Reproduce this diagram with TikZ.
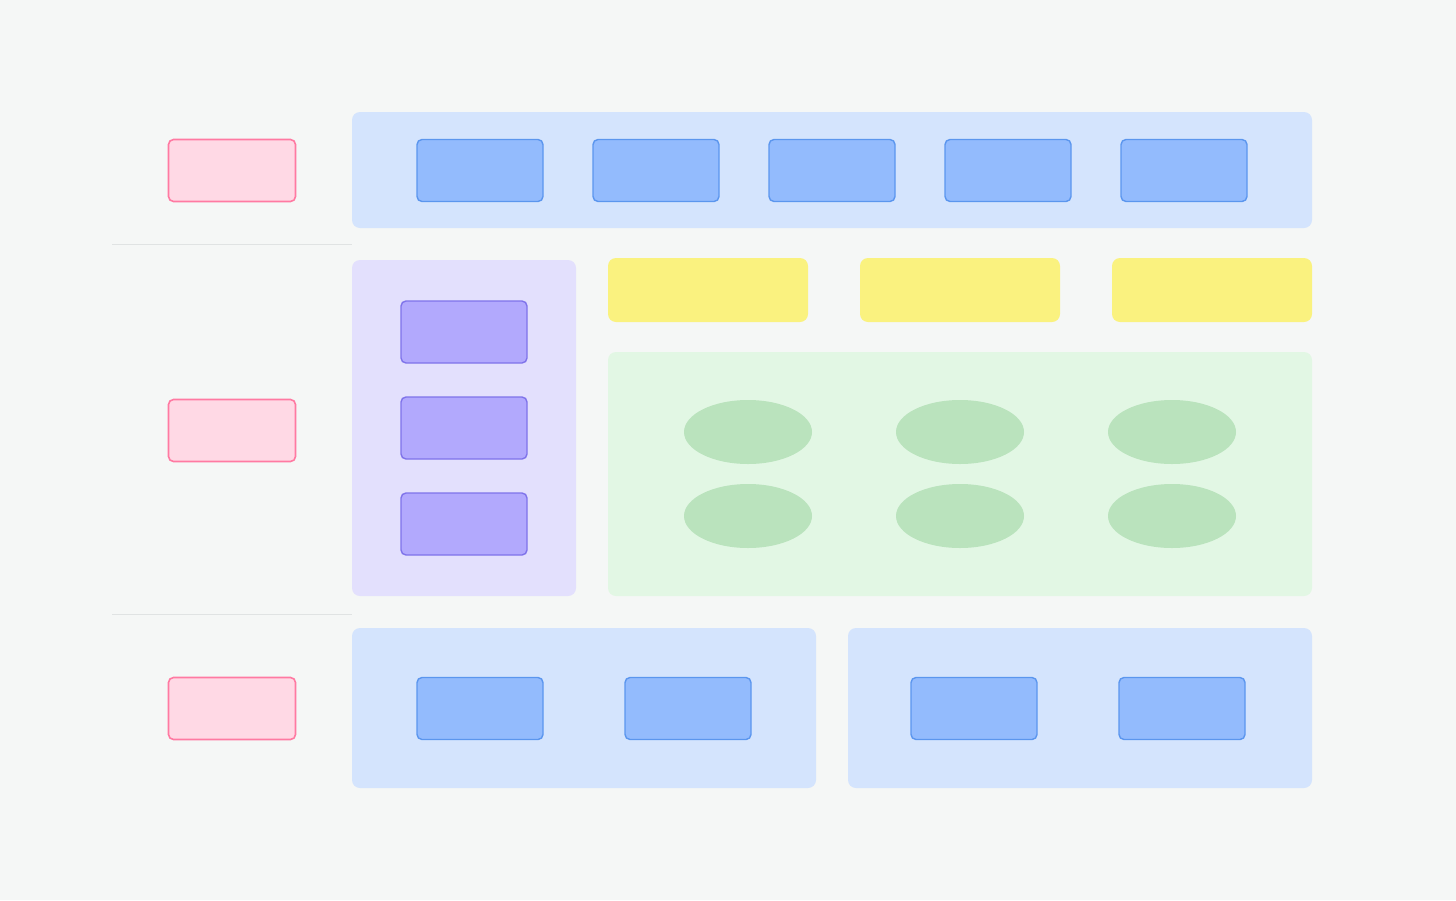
\documentclass[tikz,border=0pt]{standalone}
\begin{document}
\begin{tikzpicture}[x=1pt,y=-1pt,
  bgc/.style={fill=bgcol,draw=none},
  cont/.style={draw=none,rounded corners=8pt},
  pinkbox/.style={draw=pinkline,fill=pinkfill,line width=1.6pt,rounded corners=5pt},
  bluebox/.style={draw=blueline,fill=bluefill,line width=1.4pt,rounded corners=5pt},
  purplebox/.style={draw=purpleline,fill=purplefill,line width=1.4pt,rounded corners=5pt},
  yellowbox/.style={fill=yellowfill,draw=none,rounded corners=8pt},
  greenell/.style={fill=greenell,draw=none},
  sepline/.style={draw=sepcol,line width=1.2pt}]
\definecolor{bgcol}{HTML}{F5F7F6}
\definecolor{pinkfill}{HTML}{FFD9E5}
\definecolor{pinkline}{HTML}{FF7AA2}
\definecolor{bluecont}{HTML}{D4E4FD}
\definecolor{bluefill}{HTML}{93BBFD}
\definecolor{blueline}{HTML}{5B96EE}
\definecolor{purplecont}{HTML}{E3E0FD}
\definecolor{purplefill}{HTML}{B2A9FD}
\definecolor{purpleline}{HTML}{7F73EA}
\definecolor{yellowfill}{HTML}{FAF27F}
\definecolor{greencont}{HTML}{E2F7E4}
\definecolor{greenell}{HTML}{BAE3BD}
\definecolor{sepcol}{HTML}{E0E3E3}
\fill[bgcol] (0,0) rectangle (1456,900);
\useasboundingbox (0,0) rectangle (1456,900);
% separators
\coordinate (s1a) at (112,244.5); \coordinate (s1b) at (352,244.5);
\coordinate (s2a) at (112,614.5); \coordinate (s2b) at (352,614.5);
\draw[sepline] (s1a) -- (s1b);
\draw[sepline] (s2a) -- (s2b);
% lane labels
\draw[pinkbox] (168.5,139.5) rectangle (295.5,201.5);
\draw[pinkbox] (168.5,399.5) rectangle (295.5,461.5);
\draw[pinkbox] (168.5,677.5) rectangle (295.5,739.5);
% top container
\fill[bluecont,cont] (352,112) rectangle (1312,228);
\foreach \x in {417,593,769,945,1121}{
  \draw[bluebox] (\x,139.5) rectangle ++(126,62);
}
% purple container
\fill[purplecont,cont] (352,260) rectangle (576,596);
\foreach \y in {301,397,493}{
  \draw[purplebox] (401,\y) rectangle ++(126,62);
}
% yellow
\fill[yellowbox] (608,258) rectangle (808,322);
\fill[yellowbox] (860,258) rectangle (1060,322);
\fill[yellowbox] (1112,258) rectangle (1312,322);
% green container
\fill[greencont,cont] (608,352) rectangle (1312,596);
\foreach \x in {748,960,1172}{
  \foreach \y in {432,516}{
    \fill[greenell] (\x,\y) ellipse [x radius=64, y radius=32];
  }
}
% bottom containers
\fill[bluecont,cont] (352,628) rectangle (816,788);
\fill[bluecont,cont] (848,628) rectangle (1312,788);
\foreach \x in {417,625,911,1119}{
  \draw[bluebox] (\x,677.5) rectangle ++(126,62);
}
\end{tikzpicture}
\end{document}
